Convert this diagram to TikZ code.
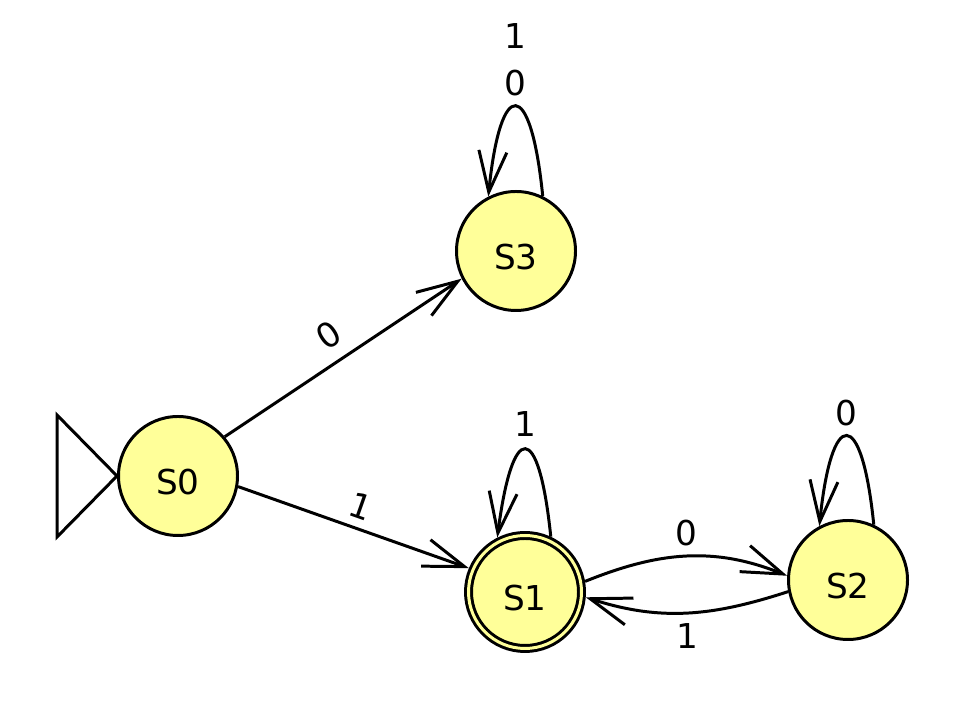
\documentclass[tikz,border=0pt]{standalone}
\usepackage{fontspec}
\setmainfont{DejaVu Sans}
\usetikzlibrary{arrows.meta}
\definecolor{statefill}{RGB}{255,255,153}

\begin{document}
\begin{tikzpicture}[
    line width=1.7pt,
    statenode/.style={circle, draw, fill=statefill, minimum size=2.38cm, inner sep=0pt,
        text height=0.76cm, text depth=0pt, font=\fontsize{19.5}{23}\selectfont},
    accnode/.style={statenode, minimum size=2.26cm, double=statefill,
        double distance=1.7pt, outer sep=0.09cm},
    lbl/.style={font=\fontsize{19.5}{26.7}\selectfont, inner sep=5pt},
    trans/.style={-{Straight Barb[length=0.82cm,width=0.56cm]}}
]
    \useasboundingbox (0,0) rectangle (19.6,14.44);

    %% states
    \node[statenode] (S0) at (3.56,4.92) {S0};
    \node[statenode] (S3) at (10.32,9.42) {S3};
    \node[accnode] (S1) at (10.50,2.60) {S1};
    \node[statenode] (S2) at (16.96,2.84) {S2};

    %% start marker
    \draw (S0.west) -- ++(-1.2,1.22) -- ++(0,-2.44) -- cycle;

    %% transitions out of S0
    \draw[trans] (S0.40) -- node[lbl, above=2pt, sloped] {0} (S3.207);
    \draw[trans] (S0.-10) -- node[lbl, above, sloped] {1} (S1.157);

    %% between S1 and S2
    \draw[trans] (S1.10) to[out=22, in=158] node[lbl, above] {0} (S2.176);
    \draw[trans] (S2.191) to[out=198, in=-18] node[lbl, below] {1} (S1.355);

    %% loops
    \draw[trans] (S3.64) .. controls +(-0.24,2.4) and +(0.24,2.4) ..
        node[lbl, above, align=center] {1\\0} (S3.117);
    \draw[trans] (S1.65) .. controls +(-0.24,2.34) and +(0.3,2.34) ..
        node[lbl, above=1.5pt] {1} (S1.117);
    \draw[trans] (S2.65) .. controls +(-0.24,2.38) and +(0.24,2.38) ..
        node[lbl, above] {0} (S2.118);
\end{tikzpicture}
\end{document}
